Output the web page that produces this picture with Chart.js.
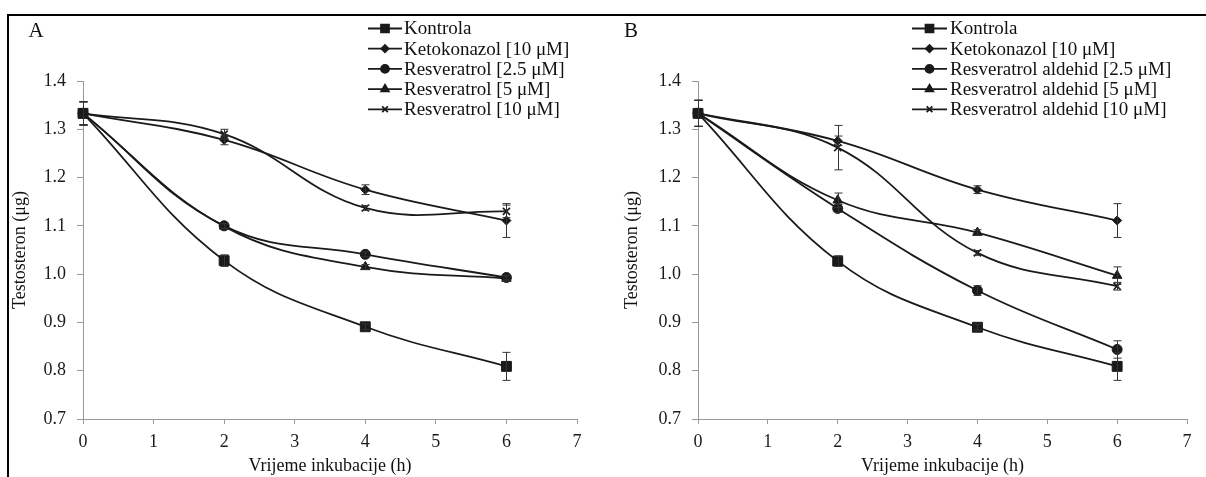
<!DOCTYPE html>
<html><head><meta charset="utf-8">
<script src="https://cdn.jsdelivr.net/npm/chart.js@4/dist/chart.umd.min.js"></script>
<style>
body{margin:0;background:#fff;}
#wrap{position:relative;width:1206px;height:477px;overflow:hidden;background:#fff;}
canvas{position:absolute;top:0;}
#ca{left:0}
#cb{left:600px}
.bt{position:absolute;left:7px;top:14px;width:1199px;height:2px;background:#000;}
.bl{position:absolute;left:7px;top:14px;width:2px;height:463px;background:#000;}
</style></head><body>
<div id="wrap"><canvas id="ca" width="600" height="477"></canvas><canvas id="cb" width="606" height="477"></canvas><div class="bt"></div><div class="bl"></div></div>
<script>
// ---- data ----
const hours = [0, 2, 4, 6];
const xTickValues = [0, 1, 2, 3, 4, 5, 6, 7];
const yTickValues = [0.7, 0.8, 0.9, 1.0, 1.1, 1.2, 1.3, 1.4];
const xTitle = 'Vrijeme inkubacije (h)';
const yTitle = 'Testosteron (μg)';

const labelsA = ['Kontrola', 'Ketokonazol [10 μM]', 'Resveratrol [2.5 μM]', 'Resveratrol [5 μM]', 'Resveratrol [10 μM]'];
const labelsB = ['Kontrola', 'Ketokonazol [10 μM]', 'Resveratrol aldehid [2.5 μM]', 'Resveratrol aldehid [5 μM]', 'Resveratrol aldehid [10 μM]'];

// Panel A values
const kontrolaA    = [1.333, 1.028, 0.891, 0.809];
const ketokonazolA = [1.333, 1.278, 1.175, 1.111];
const res25A       = [1.333, 1.100, 1.041, 0.993];
const res5A        = [1.333, 1.099, 1.015, 0.991];
const res10A       = [1.333, 1.290, 1.137, 1.130];
// Panel A errors (±)
const kontrolaAErr    = [0.024, 0.012, 0.006, 0.029];
const ketokonazolAErr = [0.024, 0.010, 0.010, 0.035];
const res25AErr       = [0.024, 0.005, 0.005, 0.005];
const res5AErr        = [0.024, 0.005, 0.005, 0.005];
const res10AErr       = [0.024, 0.010, 0.005, 0.013];

// Panel B values
const kontrolaB    = [1.333, 1.027, 0.890, 0.809];
const ketokonazolB = [1.333, 1.276, 1.175, 1.111];
const ra25B        = [1.333, 1.136, 0.966, 0.844];
const ra5B         = [1.333, 1.153, 1.086, 0.997];
const ra10B        = [1.333, 1.262, 1.044, 0.975];
// Panel B errors (±)
const kontrolaBErr    = [0.027, 0.011, 0.006, 0.029];
const ketokonazolBErr = [0.027, 0.010, 0.008, 0.035];
const ra25BErr        = [0.027, 0.008, 0.010, 0.018];
const ra5BErr         = [0.027, 0.015, 0.006, 0.018];
const ra10BErr        = [0.027, 0.046, 0.005, 0.008];

const markerStyles = ['rect', 'rectRot', 'circle', 'triangle', 'crossRot'];
const markerRadius = [7, 4.5, 5, 5.5, 5];

// ---- rendering ----
Chart.defaults.font.family = '"Liberation Serif", "Times New Roman", serif';
Chart.defaults.color = '#1a1a1a';
const INK = '#1a1a1a';
const AXIS = '#9a9a9a';

const errorBars = {
  id: 'errorBars',
  afterDatasetsDraw(chart) {
    const ctx = chart.ctx, xs = chart.scales.x, ys = chart.scales.y;
    ctx.save();
    ctx.strokeStyle = '#333';
    ctx.lineWidth = 1;
    chart.data.datasets.forEach(ds => {
      ds.data.forEach((p, i) => {
        const e = ds.errors[i];
        if (!e) return;
        const x = Math.round(xs.getPixelForValue(p.x)) + 0.5;
        const y1 = ys.getPixelForValue(p.y + e), y2 = ys.getPixelForValue(p.y - e);
        ctx.beginPath();
        ctx.moveTo(x, y1); ctx.lineTo(x, y2);
        ctx.moveTo(x - 4, y1); ctx.lineTo(x + 4, y1);
        ctx.moveTo(x - 4, y2); ctx.lineTo(x + 4, y2);
        ctx.stroke();
      });
    });
    ctx.restore();
  }
};

const innerLegend = {
  id: 'innerLegend',
  afterDraw(chart, args, opts) {
    const ctx = chart.ctx;
    ctx.save();
    ctx.font = '19px "Liberation Serif", "Times New Roman", serif';
    ctx.textBaseline = 'middle';
    chart.data.datasets.forEach((ds, i) => {
      const y = opts.y0 + i * opts.dy;
      ctx.strokeStyle = INK; ctx.lineWidth = 1.8;
      ctx.beginPath(); ctx.moveTo(opts.lx0, y); ctx.lineTo(opts.lx1, y); ctx.stroke();
      ctx.fillStyle = INK; ctx.strokeStyle = INK;
      Chart.helpers.drawPoint(ctx, {pointStyle: ds.pointStyle, radius: ds.pointRadius * 0.8, borderWidth: ds.pointStyle === 'crossRot' ? 1.2 : 1, rotation: 0}, (opts.lx0 + opts.lx1) / 2, y);
      ctx.fillStyle = '#111';
      ctx.fillText(ds.label, opts.tx, y + 1);
    });
    ctx.restore();
  }
};

const panelLabel = {
  id: 'panelLabel',
  afterDraw(chart, args, opts) {
    const ctx = chart.ctx;
    ctx.save();
    ctx.font = '21px "Liberation Serif", "Times New Roman", serif';
    ctx.fillStyle = '#111';
    ctx.textAlign = 'center'; ctx.textBaseline = 'middle';
    ctx.fillText(opts.text, opts.x, opts.y);
    ctx.restore();
  }
};

function makeDatasets(labels, series, errs) {
  return labels.map((lab, i) => ({
    label: lab,
    data: hours.map((h, j) => ({x: h, y: series[i][j]})),
    errors: errs[i],
    borderColor: INK,
    backgroundColor: INK,
    borderWidth: 1.8,
    tension: 0.4,
    pointStyle: markerStyles[i],
    pointRadius: markerRadius[i],
    pointBackgroundColor: INK,
    pointBorderColor: INK,
    pointBorderWidth: markerStyles[i] === 'crossRot' ? 1.6 : 1,
    clip: false
  }));
}

function makeChart(id, labels, series, errs, cfg) {
  return new Chart(document.getElementById(id), {
    type: 'line',
    data: {datasets: makeDatasets(labels, series, errs)},
    options: {
      responsive: false, animation: false, devicePixelRatio: 1,
      layout: {padding: {top: 81, right: cfg.padRight, left: 0, bottom: 0}},
      plugins: {
        legend: {display: false}, tooltip: {enabled: false},
        innerLegend: cfg.legend,
        panelLabel: cfg.panel
      },
      scales: {
        x: {
          type: 'linear', min: 0, max: 7,
          afterBuildTicks: s => { s.ticks = xTickValues.map(v => ({value: v})); },
          afterFit: s => { s.height = 58; },
          grid: {drawOnChartArea: false, drawTicks: true, tickLength: 5, color: AXIS},
          border: {display: true, color: AXIS, width: 1},
          ticks: {font: {size: 18}, padding: 7, color: '#1a1a1a', maxRotation: 0},
          title: {display: true, text: xTitle, font: {size: 18}, color: '#111', padding: {top: 0, bottom: 0}}
        },
        y: {
          type: 'linear', min: 0.7, max: 1.4,
          afterBuildTicks: s => { s.ticks = yTickValues.map(v => ({value: v})); },
          afterFit: s => { s.width = cfg.yWidth; },
          grid: {drawOnChartArea: false, drawTicks: true, tickLength: 6, color: AXIS},
          border: {display: true, color: AXIS, width: 1},
          ticks: {font: {size: 18}, padding: 11, color: '#1a1a1a', callback: v => v.toFixed(1)},
          title: {display: true, text: yTitle, font: {size: 18}, color: '#111', padding: {top: cfg.yTitlePad, bottom: 0}}
        }
      }
    },
    plugins: [errorBars, innerLegend, panelLabel]
  });
}

makeChart('ca', labelsA,
  [kontrolaA, ketokonazolA, res25A, res5A, res10A],
  [kontrolaAErr, ketokonazolAErr, res25AErr, res5AErr, res10AErr],
  {padRight: 23, yWidth: 83, yTitlePad: 9,
   legend: {lx0: 368, lx1: 402, tx: 404, y0: 28.5, dy: 20.2},
   panel: {text: 'A', x: 36, y: 31}});

makeChart('cb', labelsB,
  [kontrolaB, ketokonazolB, ra25B, ra5B, ra10B],
  [kontrolaBErr, ketokonazolBErr, ra25BErr, ra5BErr, ra10BErr],
  {padRight: 19, yWidth: 98, yTitlePad: 21,
   legend: {lx0: 312, lx1: 347, tx: 350, y0: 28.5, dy: 20.2},
   panel: {text: 'B', x: 31, y: 31}});
</script>
</body></html>
